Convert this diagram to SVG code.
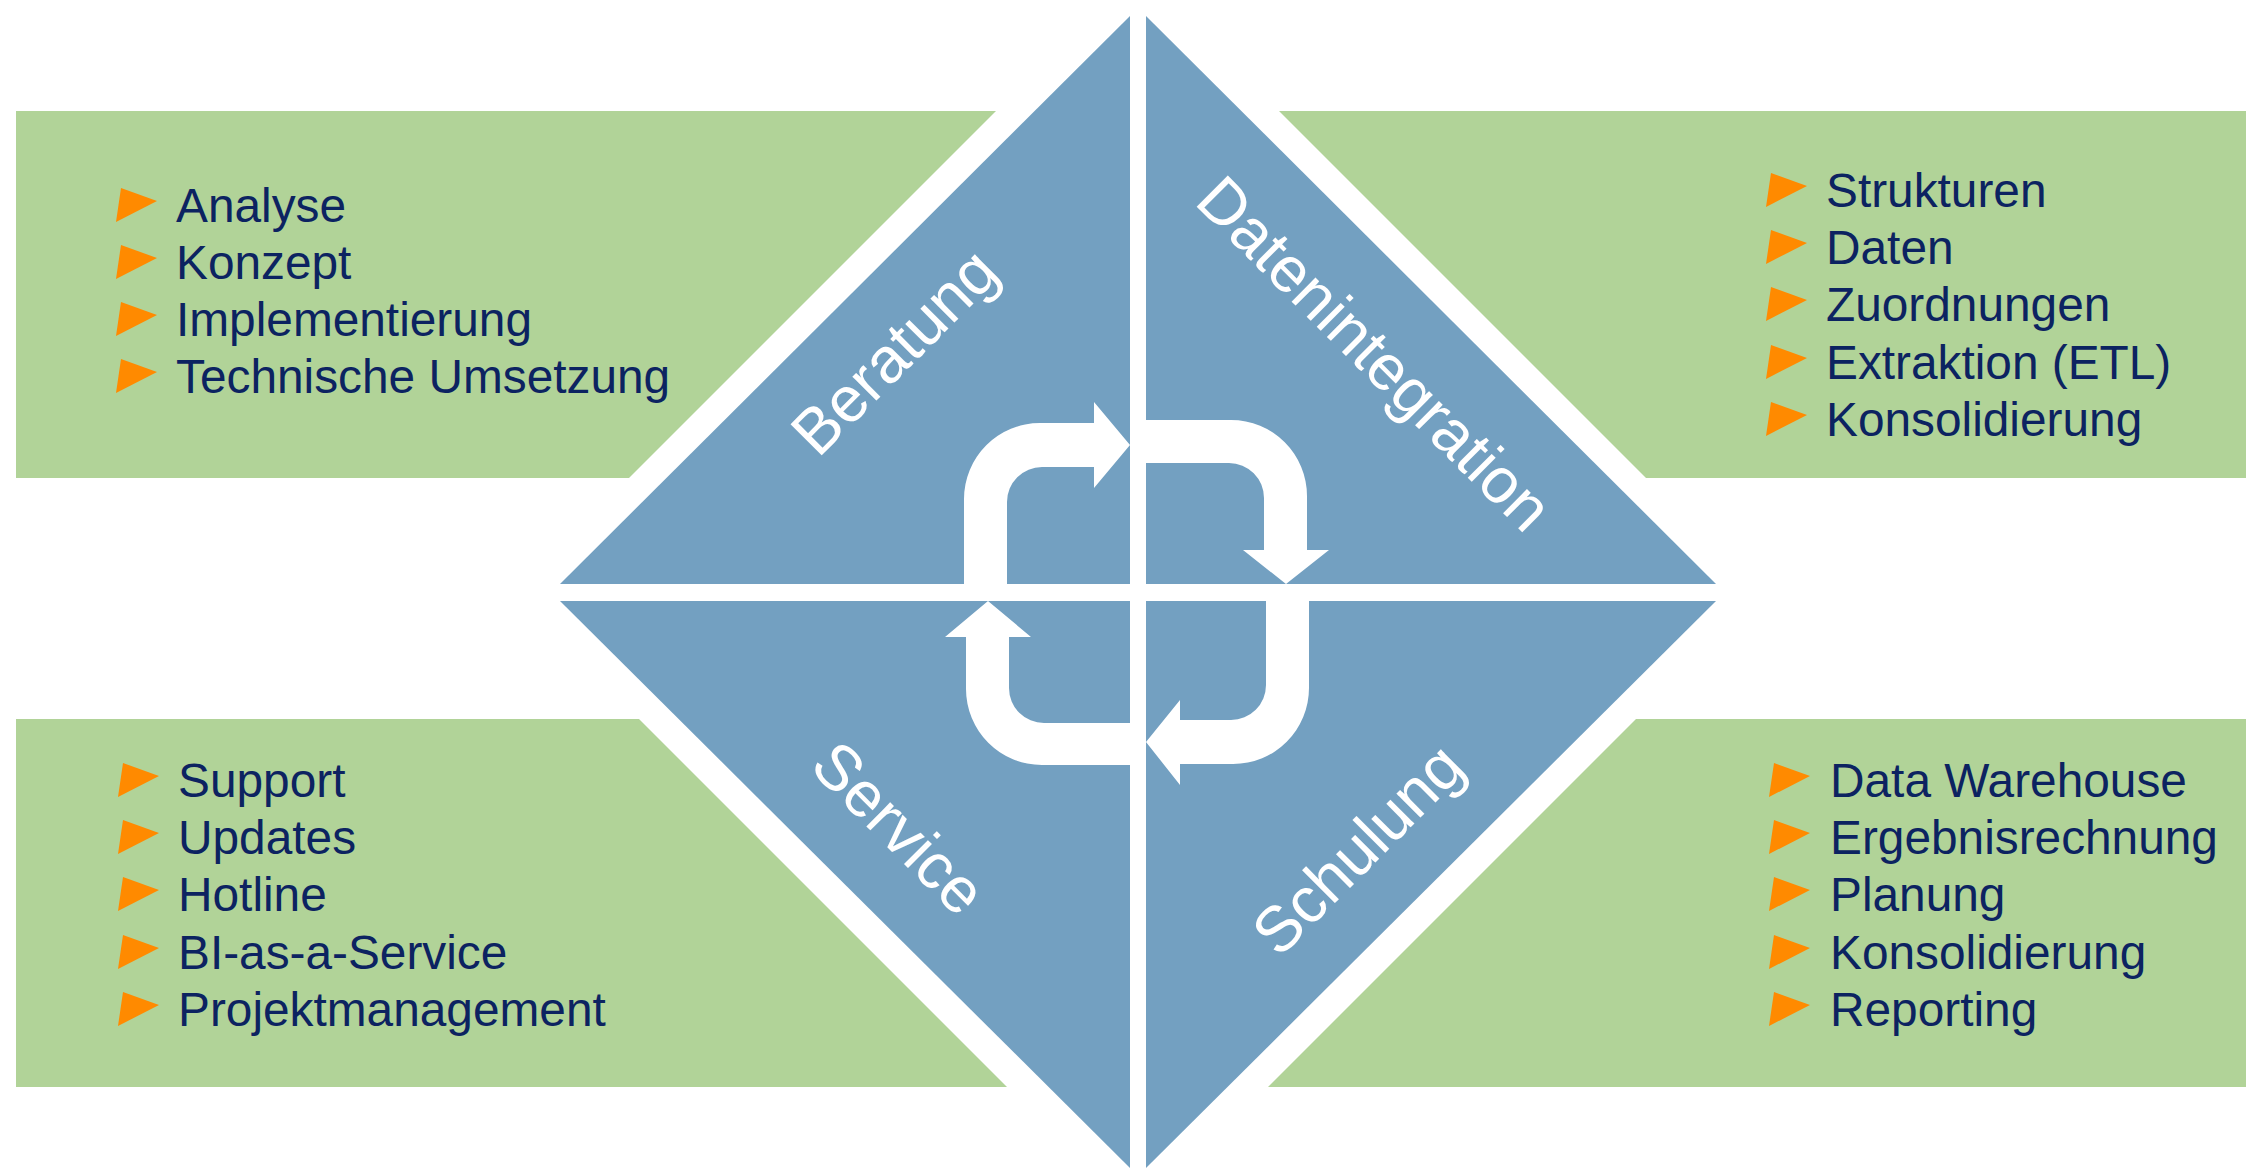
<svg xmlns="http://www.w3.org/2000/svg" xmlns:xlink="http://www.w3.org/1999/xlink" width="2246" height="1168" viewBox="0 0 2246 1168">
  <style>
    .panel { fill: #b1d398; }
    .quad { fill: #73a0c1; }
    .item { font-family: "Liberation Sans", Arial, sans-serif; font-size: 47.8px; fill: #0c2361; }
    .label { font-family: "Liberation Sans", Arial, sans-serif; font-size: 64px; fill: #ffffff; }
    .bullet { fill: #ff8a00; }
    .cyc { fill: #ffffff; }
  </style>
  <defs>
    <polygon id="b" class="bullet" points="5,-34 41,-21 0,0"/>
  </defs>
  <rect width="2246" height="1168" fill="#ffffff"/>

  <g id="panel-beratung">
    <polygon class="panel" points="16,111 996,111 629,478 16,478"/>
    <use href="#b" x="116" y="222"/><text class="item" x="176" y="222">Analyse</text>
    <use href="#b" x="116" y="279"/><text class="item" x="176" y="279">Konzept</text>
    <use href="#b" x="116" y="336"/><text class="item" x="176" y="336">Implementierung</text>
    <use href="#b" x="116" y="393"/><text class="item" x="176" y="393">Technische Umsetzung</text>
  </g>

  <g id="panel-datenintegration">
    <polygon class="panel" points="1279,111 2246,111 2246,478 1646,478"/>
    <use href="#b" x="1766" y="207"/><text class="item" x="1826" y="207">Strukturen</text>
    <use href="#b" x="1766" y="264"/><text class="item" x="1826" y="264">Daten</text>
    <use href="#b" x="1766" y="321"/><text class="item" x="1826" y="321">Zuordnungen</text>
    <use href="#b" x="1766" y="379"/><text class="item" x="1826" y="379">Extraktion (ETL)</text>
    <use href="#b" x="1766" y="436"/><text class="item" x="1826" y="436">Konsolidierung</text>
  </g>

  <g id="panel-service">
    <polygon class="panel" points="16,719 639,719 1007,1087 16,1087"/>
    <use href="#b" x="118" y="797"/><text class="item" x="178" y="797">Support</text>
    <use href="#b" x="118" y="854"/><text class="item" x="178" y="854">Updates</text>
    <use href="#b" x="118" y="911"/><text class="item" x="178" y="911">Hotline</text>
    <use href="#b" x="118" y="969"/><text class="item" x="178" y="969">BI-as-a-Service</text>
    <use href="#b" x="118" y="1026"/><text class="item" x="178" y="1026">Projektmanagement</text>
  </g>

  <g id="panel-schulung">
    <polygon class="panel" points="1636,719 2246,719 2246,1087 1268,1087"/>
    <use href="#b" x="1769" y="797"/><text class="item" x="1830" y="797">Data Warehouse</text>
    <use href="#b" x="1769" y="854"/><text class="item" x="1830" y="854">Ergebnisrechnung</text>
    <use href="#b" x="1769" y="911"/><text class="item" x="1830" y="911">Planung</text>
    <use href="#b" x="1769" y="969"/><text class="item" x="1830" y="969">Konsolidierung</text>
    <use href="#b" x="1769" y="1026"/><text class="item" x="1830" y="1026">Reporting</text>
  </g>

  <g id="quad-beratung">
    <polygon class="quad" points="1130,16 1130,584 560,584"/>
    <text class="label" transform="translate(818,459) rotate(-45)">Beratung</text>
  </g>
  <g id="quad-datenintegration">
    <polygon class="quad" points="1146,16 1716,584 1146,584"/>
    <text class="label" transform="translate(1193,203) rotate(45)">Datenintegration</text>
  </g>
  <g id="quad-service">
    <polygon class="quad" points="560,601 1130,601 1130,1168"/>
    <text class="label" transform="translate(808,768) rotate(45)">Service</text>
  </g>
  <g id="quad-schulung">
    <polygon class="quad" points="1146,601 1716,601 1146,1168"/>
    <text class="label" transform="translate(1279,959) rotate(-45)">Schulung</text>
  </g>

  <g id="connectors">
    <path class="cyc" d="M964,584 L964,499 A76,76 0 0 1 1040,423 L1094,423 L1094,402 L1130,445 L1094,488 L1094,467 L1042,467 A35,35 0 0 0 1007,502 L1007,584 Z"/>
    <path class="cyc" d="M1146,420 L1231,420 A76,76 0 0 1 1307,496 L1307,550 L1329,550 L1286,584 L1243,550 L1264,550 L1264,498 A35,35 0 0 0 1229,463 L1146,463 Z"/>
    <path class="cyc" d="M1309,601 L1309,688 A76,76 0 0 1 1233,764 L1180,764 L1180,785 L1146,742 L1180,700 L1180,720 L1231,720 A35,35 0 0 0 1266,685 L1266,601 Z"/>
    <path class="cyc" d="M1130,765 L1042,765 A76,76 0 0 1 966,689 L966,637 L945,637 L988,601 L1031,637 L1009,637 L1009,688 A35,35 0 0 0 1044,723 L1130,723 Z"/>
  </g>
</svg>
